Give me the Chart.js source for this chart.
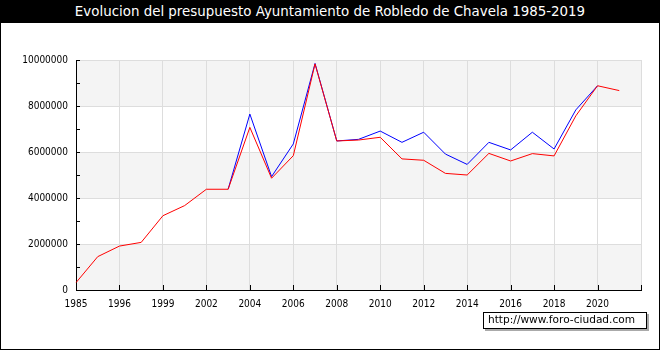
<!DOCTYPE html>
<html>
<head>
<meta charset="utf-8">
<script src="https://cdn.jsdelivr.net/npm/chart.js@4"></script>
<style>
  html, body { margin: 0; padding: 0; background: #fff; }
  #wrap { position: relative; width: 660px; height: 350px; box-sizing: border-box; border: 1px solid #000; border-top: none; overflow: hidden; }
  #title { position: absolute; left: 0; top: 0; width: 660px; height: 23px; background: #000; color: #fff;
           font: 13.4px "DejaVu Sans", sans-serif; text-align: center; line-height: 24px; margin-left: -1px; }
  #chart { position: absolute; left: -1px; top: 0; }
  #credit { position: absolute; left: 482px; top: 312px; width: 154px; padding: 0 4px; height: 15px; line-height: 15px; border: 1px solid #000;
            background: #fff; font: 10.6px "DejaVu Sans", sans-serif; box-shadow: 2px 2px 0 #aaa; white-space: nowrap; }
</style>
</head>
<body>
<div id="wrap">
  <canvas id="chart" width="660" height="350"></canvas>
  <div id="title">Evolucion del presupuesto Ayuntamiento de Robledo de Chavela 1985-2019</div>
  <div id="credit">http://www.foro-ciudad.com</div>
</div>
<script>
// categories (one spare slot at the end so the axis runs one step past 2021)
const years = ['1985', '1995', '1996', '1998', '1999', '2001', '2002', '2003', '2004', '2005', '2006', '2007', '2008',
               '2009', '2010', '2011', '2012', '2013', '2014', '2015', '2016', '2017', '2018', '2019', '2020', '2021', ''];

// red line
const gastos = [320000, 1450000, 1910000, 2070000, 3230000, 3670000, 4380000, 4380000, 7070000, 4860000, 5840000, 9830000,
                6480000, 6520000, 6640000, 5700000, 5640000, 5070000, 5000000, 5940000, 5610000, 5930000, 5830000, 7570000,
                8880000, 8670000, null];

// blue line
const ingresos = [null, null, null, null, null, null, null, 4380000, 7650000, 4930000, 6350000, 9850000,
                  6480000, 6550000, 6910000, 6420000, 6860000, 5910000, 5460000, 6420000, 6090000, 6860000, 6130000, 7830000,
                  8880000, null, null];

const yTicks = [0, 2000000, 4000000, 6000000, 8000000, 10000000];

const bands = {
    id: 'bands',
    beforeDraw(chart) {
        const { ctx, chartArea: a, scales: { y } } = chart;
        ctx.save();
        ctx.fillStyle = '#f4f4f4';
        for (let i = 0; i < yTicks.length - 1; i += 2) {
            const top = y.getPixelForValue(yTicks[i + 1]);
            const bot = y.getPixelForValue(yTicks[i]);
            ctx.fillRect(a.left, top, a.right - a.left, bot - top);
        }
        ctx.restore();
    },
    afterDraw(chart) {
        // inward tick marks
        const { ctx, chartArea: a, scales: { x, y } } = chart;
        ctx.save();
        ctx.strokeStyle = '#000';
        ctx.lineWidth = 1;
        ctx.beginPath();
        for (let i = 0; i < years.length; i += 2) {
            const px = Math.round(x.getPixelForValue(i)) + 0.5;
            ctx.moveTo(px, a.bottom);
            ctx.lineTo(px, a.bottom - 5);
        }
        for (let v = 0; v <= 10000000; v += 1000000) {
            const py = Math.round(y.getPixelForValue(v)) + 0.5;
            ctx.moveTo(a.left, py);
            ctx.lineTo(a.left + 4, py);
        }
        ctx.stroke();
        ctx.restore();
    }
};

new Chart(document.getElementById('chart'), {
    type: 'line',
    data: {
        labels: years,
        datasets: [
            { data: gastos, borderColor: '#ff0000', borderWidth: 1, pointRadius: 0, tension: 0, fill: false },
            { data: ingresos, borderColor: '#0000ff', borderWidth: 1, pointRadius: 0, tension: 0, fill: false }
        ]
    },
    options: {
        responsive: false,
        animation: false,
        layout: { padding: { top: 60, right: 19, left: 0, bottom: 0 } },
        plugins: { legend: { display: false }, title: { display: false }, tooltip: { enabled: false } },
        scales: {
            x: {
                offset: false,
                afterFit(s) { s.height = 60; },
                grid: { drawTicks: false, color: (c) => (c.index % 2 === 0 ? '#dddddd' : 'rgba(0,0,0,0)') },
                border: { color: '#000', width: 1 },
                ticks: {
                    autoSkip: false, maxRotation: 0, padding: 8, color: '#000',
                    font: { family: '"DejaVu Sans Condensed", "DejaVu Sans"', size: 10 },
                    callback: (v, i) => (i % 2 === 0 ? years[i] : '')
                }
            },
            y: {
                min: 0, max: 10000000,
                afterFit(s) { s.width = 76; },
                afterBuildTicks(s) { s.ticks = yTicks.map(v => ({ value: v })); },
                grid: { drawTicks: false, color: '#dddddd' },
                border: { color: '#000', width: 1 },
                ticks: {
                    padding: 8, color: '#000',
                    font: { family: '"DejaVu Sans Condensed", "DejaVu Sans"', size: 10 },
                    callback: (v) => String(v)
                }
            }
        }
    },
    plugins: [bands]
});
</script>
</body>
</html>
